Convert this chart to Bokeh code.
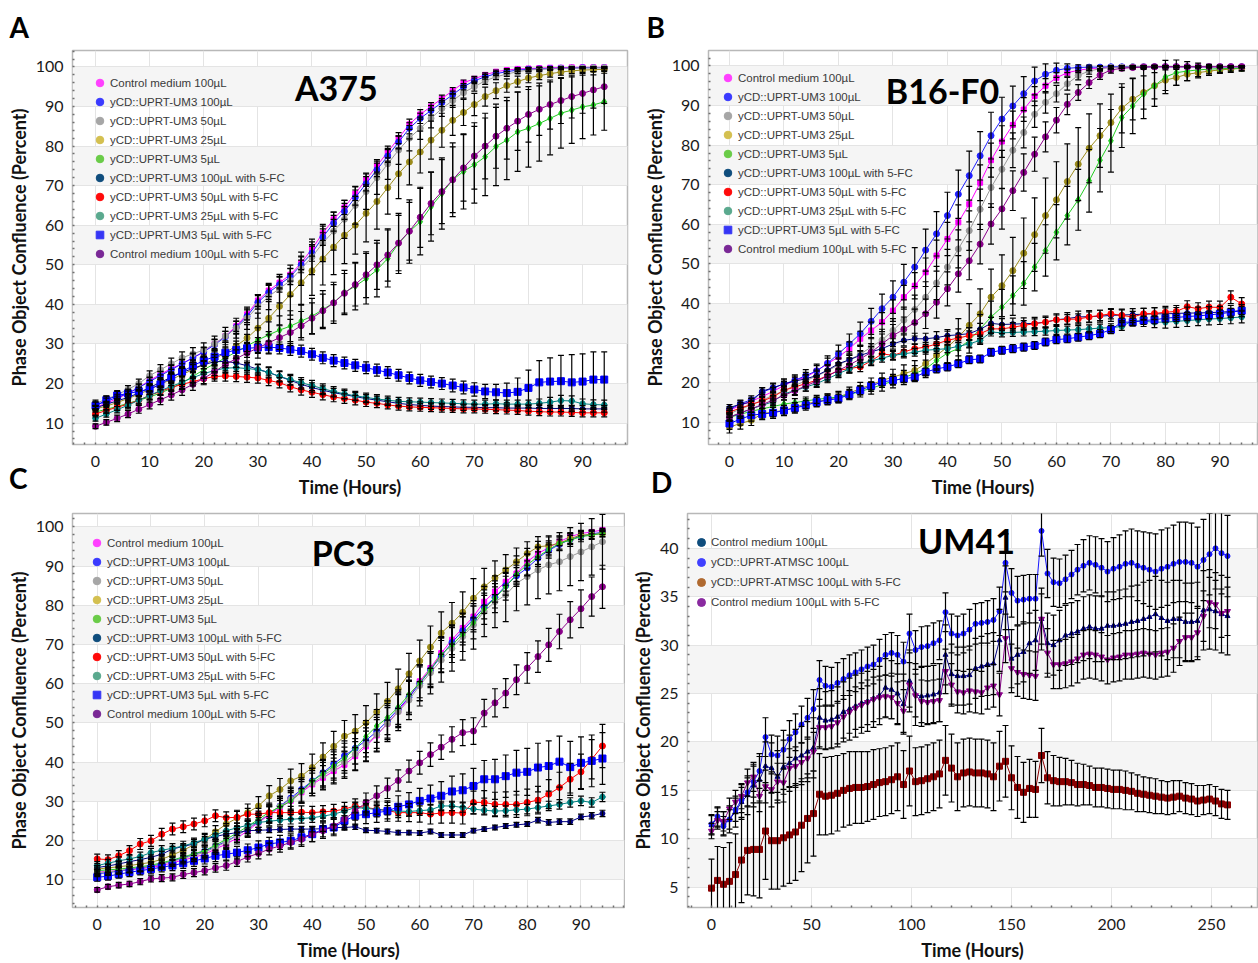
from bokeh.plotting import figure
from bokeh.models import (ColumnDataSource, Whisker, TeeHead, Legend, LegendItem,
                          Label, Range1d, SingleIntervalTicker, Title, Div)
from bokeh.layouts import row, column
from bokeh.embed import file_html
from bokeh.resources import INLINE

# ---------------- time axes ----------------
T = list(range(0, 96, 2))          # panels A, B, C (hours)
T_D = list(range(0, 259, 3))       # panel D (hours)

# ---------------- series labels / styles ----------------
LABELS_ABC = ["Control medium 100\u00b5L", "yCD::UPRT-UM3 100\u00b5L", "yCD::UPRT-UM3 50\u00b5L",
              "yCD::UPRT-UM3 25\u00b5L", "yCD::UPRT-UM3 5\u00b5L", "yCD::UPRT-UM3 100\u00b5L with 5-FC",
              "yCD::UPRT-UM3 50\u00b5L with 5-FC", "yCD::UPRT-UM3 25\u00b5L with 5-FC",
              "yCD::UPRT-UM3 5\u00b5L with 5-FC", "Control medium 100\u00b5L with 5-FC"]
LINE_COLORS_ABC = ["#ff00ff", "#1f1fff", "#9a9a9a", "#9c8c1c", "#22cc22",
                   "#000080", "#ff0000", "#008080", "#0000ff", "#8b008b"]
LEGEND_COLORS_ABC = ["#ff40ff", "#3a3aff", "#a6a6a6", "#d4c050", "#6acc48",
                     "#0f4d7d", "#ff0a0a", "#5aa98e", "#3535f5", "#7a2896"]
MARKERS_ABC = ["square", "circle", "circle", "circle", "diamond",
               "circle", "circle", "hex", "square", "circle"]
SIZES_ABC = [5, 6, 6, 6, 7, 5, 6, 6, 7, 6]
LEGEND_MARKERS_ABC = ["circle"] * 8 + ["square", "circle"]

LABELS_D = ["Control medium 100\u00b5L", "yCD::UPRT-ATMSC 100\u00b5L",
            "yCD::UPRT-ATMSC 100\u00b5L with 5-FC", "Control medium 100\u00b5L with 5-FC"]
LINE_COLORS_D = ["#000080", "#1515ff", "#8b0000", "#8b008b"]
LEGEND_COLORS_D = ["#0f4d7d", "#4040ff", "#b06a30", "#8a2aa0"]
MARKERS_D = ["triangle", "circle", "square", "inverted_triangle"]
SIZES_D = [5, 5, 6, 6]

# ---------------- Panel A (A375) ----------------
A_CTRL = [14.0, 15.0, 16.2, 17.5, 19.0, 20.8, 22.3, 23.8, 25.0, 26.5,
          28.0, 30.0, 32.0, 34.5, 37.5, 41.0, 43.5, 45.5, 47.5, 50.5,
          54.0, 58.0, 61.5, 64.5, 68.0, 71.5, 75.0, 78.5, 82.0, 85.5,
          88.0, 90.0, 92.0, 94.0, 96.0, 97.0, 98.0, 98.8, 99.2, 99.5,
          99.6, 99.7, 99.8, 99.8, 99.9, 99.9, 99.9, 99.9]
A_UM100 = [14.5, 15.5, 16.5, 17.5, 19.0, 20.5, 22.0, 23.5, 25.0, 26.5,
           28.0, 29.8, 31.8, 34.2, 37.0, 40.5, 43.0, 45.0, 47.0, 50.0,
           53.0, 57.0, 60.5, 63.5, 67.0, 70.5, 74.0, 77.5, 81.0, 84.5,
           87.0, 89.0, 91.0, 93.0, 95.0, 96.5, 97.5, 98.3, 98.8, 99.2,
           99.4, 99.5, 99.6, 99.7, 99.7, 99.8, 99.8, 99.8]
A_UM50 = [15.0, 16.0, 17.2, 18.5, 20.0, 22.0, 23.5, 25.0, 26.5, 27.5,
          28.5, 30.0, 32.0, 34.0, 36.5, 39.5, 42.0, 44.0, 46.0, 49.0,
          52.0, 55.5, 58.5, 61.5, 65.0, 68.5, 72.0, 75.5, 79.0, 82.0,
          84.5, 87.0, 89.5, 91.5, 93.5, 95.0, 96.5, 97.5, 98.2, 98.8,
          99.2, 99.4, 99.5, 99.6, 99.7, 99.7, 99.8, 99.8]
A_UM25 = [13.6, 14.3, 15.2, 16.2, 17.3, 18.5, 19.8, 21.0, 22.3, 23.5,
          24.8, 26.2, 27.8, 29.5, 31.5, 34.0, 36.5, 39.5, 42.5, 45.5,
          48.5, 51.5, 54.5, 57.5, 60.0, 63.0, 66.0, 69.5, 73.0, 76.0,
          78.5, 81.5, 84.0, 86.5, 88.5, 90.5, 92.5, 94.0, 95.3, 96.3,
          97.2, 97.8, 98.3, 98.7, 99.0, 99.2, 99.3, 99.4]
A_UM5 = [12.8, 13.5, 14.2, 15.0, 15.8, 16.6, 17.6, 18.8, 20.2, 21.8,
         23.5, 25.0, 26.5, 28.0, 29.5, 31.0, 32.3, 33.5, 34.5, 35.8,
         37.0, 38.7, 40.4, 43.0, 44.6, 46.5, 48.7, 51.6, 55.4, 58.4,
         60.9, 64.7, 68.0, 71.5, 73.6, 75.3, 77.3, 79.9, 81.5, 83.6,
         84.5, 85.7, 87.0, 88.3, 89.1, 89.9, 90.4, 91.2]
A_UM100FC = [13.8, 14.8, 15.6, 16.5, 17.6, 19.0, 20.3, 21.6, 22.8, 23.8,
             24.8, 25.5, 25.6, 25.2, 24.5, 23.6, 22.8, 21.8, 20.8, 19.8,
             19.0, 18.3, 17.7, 17.2, 16.7, 16.2, 15.8, 15.4, 15.0, 14.7,
             14.5, 14.3, 14.2, 14.1, 14.0, 14.0, 13.9, 13.9, 13.8, 13.8,
             13.8, 13.7, 13.7, 13.7, 13.7, 13.6, 13.6, 13.6]
A_UM50FC = [12.3, 13.2, 14.0, 14.8, 15.8, 17.0, 18.0, 19.0, 19.8, 20.5,
            21.2, 21.8, 21.9, 21.8, 21.6, 21.4, 20.8, 20.2, 19.2, 18.4,
            17.8, 17.2, 16.6, 16.2, 15.8, 15.3, 15.0, 14.6, 14.3, 14.1,
            14.0, 13.9, 13.8, 13.7, 13.6, 13.6, 13.5, 13.4, 13.3, 13.2,
            13.0, 12.9, 12.8, 12.8, 12.7, 12.6, 12.6, 12.6]
A_UM25FC = [11.2, 12.3, 13.4, 14.5, 15.8, 17.0, 18.2, 19.3, 20.3, 21.5,
            22.5, 23.3, 23.9, 24.0, 23.8, 23.5, 22.8, 21.8, 21.0, 20.2,
            19.5, 18.7, 18.0, 17.4, 16.9, 16.5, 16.1, 15.8, 15.5, 15.4,
            15.3, 15.2, 15.1, 15.0, 14.9, 14.8, 14.8, 14.9, 14.8, 14.8,
            14.8, 15.0, 15.3, 15.7, 15.6, 14.9, 14.7, 14.6]
A_UM5FC = [14.4, 15.8, 17.0, 17.5, 18.0, 18.6, 19.8, 21.5, 23.0, 24.5,
           25.8, 26.8, 27.8, 28.5, 28.9, 29.1, 29.2, 29.0, 28.6, 28.2,
           27.4, 26.5, 25.8, 25.2, 24.6, 24.0, 23.4, 22.8, 22.1, 21.4,
           20.8, 20.4, 20.0, 19.5, 19.0, 18.5, 18.0, 17.8, 17.6, 17.9,
           18.9, 20.3, 20.5, 20.6, 20.3, 20.5, 21.0, 21.0]
A_CTRLFC = [9.2, 10.2, 11.2, 12.3, 13.5, 14.7, 15.9, 17.1, 18.4, 19.8,
            21.3, 23.0, 24.8, 26.3, 27.7, 29.0, 30.3, 31.6, 32.9, 34.6,
            36.5, 38.4, 40.4, 42.8, 45.0, 47.5, 50.0, 52.5, 55.5, 58.5,
            62.0, 65.5, 68.5, 71.5, 74.5, 77.5, 80.0, 82.5, 84.5, 86.3,
            88.0, 89.3, 90.5, 91.5, 92.5, 93.3, 94.2, 95.0]

E_A_CTRL = [0.5, 0.5, 0.6, 0.6, 0.7, 0.8, 0.8, 0.9, 1.0, 1.0,
            1.1, 1.2, 1.2, 1.3, 1.4, 1.5, 1.5, 1.6, 1.6, 1.7,
            1.8, 1.8, 1.8, 1.8, 1.8, 1.7, 1.6, 1.5, 1.4, 1.3,
            1.2, 1.0, 0.9, 0.8, 0.7, 0.6, 0.5, 0.4, 0.4, 0.3,
            0.3, 0.3, 0.3, 0.2, 0.2, 0.2, 0.2, 0.2]
E_A_UM100 = [0.8, 0.8, 0.8, 0.9, 0.9, 1.0, 1.0, 1.1, 1.1, 1.2,
             1.2, 1.3, 1.4, 1.5, 1.6, 1.7, 1.8, 1.9, 2.0, 2.0,
             2.1, 2.1, 2.0, 2.0, 1.9, 1.8, 1.7, 1.6, 1.5, 1.4,
             1.3, 1.2, 1.0, 0.9, 0.8, 0.7, 0.6, 0.5, 0.5, 0.4,
             0.4, 0.3, 0.3, 0.3, 0.2, 0.2, 0.2, 0.2]
E_A_UM50 = [0.8, 0.9, 1.0, 1.0, 1.1, 1.2, 1.3, 1.4, 1.5, 1.6,
            1.8, 2.0, 2.2, 2.5, 2.8, 3.0, 3.3, 3.6, 3.9, 4.2,
            4.5, 4.7, 4.8, 4.8, 4.7, 4.5, 4.2, 3.9, 3.6, 3.2,
            2.8, 2.4, 2.0, 1.7, 1.4, 1.1, 0.9, 0.7, 0.6, 0.5,
            0.4, 0.4, 0.3, 0.3, 0.3, 0.2, 0.2, 0.2]
E_A_UM25 = [0.8, 0.9, 1.0, 1.1, 1.2, 1.3, 1.4, 1.5, 1.6, 1.8,
            2.0, 2.3, 2.6, 3.0, 3.4, 3.8, 4.2, 4.7, 5.2, 5.7,
            6.2, 6.6, 7.0, 7.2, 7.3, 7.2, 7.0, 6.7, 6.3, 5.8,
            5.3, 4.8, 4.3, 3.8, 3.3, 2.8, 2.4, 2.0, 1.7, 1.4,
            1.2, 1.0, 0.9, 0.8, 0.7, 0.6, 0.5, 0.5]
E_A_UM5 = [0.8, 0.9, 1.0, 1.1, 1.2, 1.3, 1.4, 1.5, 1.7, 1.9,
           2.1, 2.3, 2.5, 2.7, 2.9, 3.1, 3.3, 3.6, 3.9, 4.2,
           4.5, 4.8, 5.2, 5.6, 6.0, 6.4, 6.8, 7.2, 7.6, 8.0,
           8.4, 8.7, 9.0, 9.3, 9.5, 9.7, 9.8, 9.9, 10.0, 10.0,
           9.8, 9.5, 9.2, 8.8, 8.4, 8.0, 7.6, 7.2]
E_A_UM100FC = [0.6, 0.6, 0.7, 0.7, 0.8, 0.8, 0.9, 0.9, 1.0, 1.0,
               1.0, 1.1, 1.1, 1.1, 1.2, 1.2, 1.2, 1.2, 1.2, 1.2,
               1.2, 1.1, 1.1, 1.1, 1.0, 1.0, 1.0, 0.9, 0.9, 0.9,
               0.9, 0.8, 0.8, 0.8, 0.8, 0.8, 0.8, 0.8, 0.8, 0.8,
               0.8, 0.8, 0.8, 0.8, 0.8, 0.8, 0.8, 0.8]
E_A_UM50FC = [0.7, 0.7, 0.8, 0.8, 0.9, 0.9, 1.0, 1.0, 1.1, 1.1,
              1.2, 1.2, 1.3, 1.3, 1.3, 1.3, 1.3, 1.3, 1.3, 1.3,
              1.3, 1.3, 1.2, 1.2, 1.2, 1.1, 1.1, 1.0, 1.0, 1.0,
              1.0, 1.0, 1.0, 1.0, 1.0, 1.0, 1.0, 1.0, 1.0, 1.0,
              1.0, 1.0, 1.0, 1.0, 1.0, 1.0, 1.0, 1.0]
E_A_UM25FC = [0.7, 0.8, 0.8, 0.9, 0.9, 1.0, 1.0, 1.1, 1.1, 1.2,
              1.2, 1.3, 1.3, 1.4, 1.4, 1.4, 1.4, 1.4, 1.3, 1.3,
              1.3, 1.2, 1.2, 1.2, 1.1, 1.1, 1.1, 1.0, 1.0, 1.0,
              1.0, 1.0, 1.0, 1.0, 1.0, 1.0, 1.0, 1.0, 1.0, 1.0,
              1.0, 1.1, 1.2, 1.3, 1.3, 1.2, 1.2, 1.2]
E_A_UM5FC = [1.0, 1.0, 1.0, 1.1, 1.1, 1.2, 1.2, 1.3, 1.3, 1.4,
             1.4, 1.5, 1.5, 1.5, 1.5, 1.5, 1.5, 1.5, 1.5, 1.5,
             1.5, 1.5, 1.5, 1.5, 1.5, 1.5, 1.5, 1.5, 1.5, 1.5,
             1.5, 1.5, 1.5, 1.6, 1.6, 1.7, 1.8, 2.0, 2.5, 3.5,
             4.5, 5.5, 6.0, 6.5, 7.0, 7.0, 7.0, 7.0]
E_A_CTRLFC = [0.6, 0.7, 0.8, 0.9, 1.0, 1.1, 1.2, 1.3, 1.4, 1.5,
              1.6, 1.8, 2.0, 2.2, 2.4, 2.6, 2.8, 3.0, 3.3, 3.6,
              3.9, 4.2, 4.6, 5.0, 5.4, 5.8, 6.2, 6.6, 7.0, 7.3,
              7.6, 7.9, 8.1, 8.3, 8.4, 8.4, 8.3, 8.1, 7.8, 7.4,
              7.0, 6.6, 6.2, 5.8, 5.4, 5.0, 4.6, 4.2]

# ---------------- Panel B (B16-F0) ----------------
B_CTRL = [13.0, 14.3, 15.3, 16.5, 17.8, 19.3, 20.6, 21.4, 23.0, 24.8,
          26.5, 28.6, 31.1, 33.2, 35.3, 38.2, 41.6, 44.5, 47.9, 52.1,
          56.3, 60.5, 65.1, 70.5, 76.2, 80.9, 85.1, 89.0, 92.4, 95.0,
          97.0, 98.3, 98.9, 99.3, 99.5, 99.6, 99.7, 99.7, 99.8, 99.8,
          99.8, 99.8, 99.8, 99.8, 99.8, 99.8, 99.8, 99.8]
B_UM100 = [13.2, 14.7, 15.7, 17.6, 18.7, 19.7, 20.6, 21.8, 23.0, 24.9,
           27.3, 29.8, 32.4, 35.5, 38.7, 41.6, 45.4, 49.2, 53.5, 57.6,
           62.2, 67.6, 72.3, 77.3, 82.4, 86.6, 89.9, 93.0, 96.2, 97.9,
           98.9, 99.4, 99.6, 99.7, 99.7, 99.8, 99.8, 99.8, 99.8, 99.8,
           99.8, 99.8, 99.8, 99.8, 99.8, 99.8, 99.8, 99.8]
B_UM50 = [12.2, 13.3, 14.4, 15.6, 16.8, 18.0, 19.3, 20.5, 21.7, 23.0,
          24.5, 25.8, 27.2, 29.0, 30.8, 33.2, 35.8, 38.5, 41.6, 45.2,
          49.2, 53.8, 58.4, 63.8, 69.3, 73.9, 78.7, 83.2, 87.8, 90.8,
          93.0, 95.5, 97.6, 98.7, 99.3, 99.6, 99.7, 99.8, 99.8, 99.8,
          99.8, 99.8, 99.8, 99.8, 99.8, 99.8, 99.8, 99.8]
B_UM25 = [8.8, 9.7, 10.5, 12.2, 12.6, 13.0, 13.8, 14.7, 15.2, 15.8,
          16.4, 17.4, 18.5, 19.5, 20.6, 21.4, 22.3, 23.1, 24.8, 26.9,
          29.0, 31.5, 34.5, 37.4, 41.6, 44.5, 48.3, 52.7, 57.4, 62.2,
          66.2, 70.8, 75.2, 79.2, 82.4, 85.7, 89.3, 91.6, 93.3, 95.0,
          96.4, 97.1, 97.9, 98.3, 98.7, 99.0, 99.2, 99.4]
B_UM5 = [11.3, 12.0, 12.8, 13.4, 14.0, 14.6, 15.0, 15.4, 15.8, 16.1,
         16.4, 17.0, 17.8, 18.6, 19.5, 20.4, 21.3, 22.3, 23.5, 25.6,
         27.5, 28.6, 30.7, 33.6, 36.6, 39.1, 42.0, 45.1, 49.2, 53.4,
         58.0, 62.2, 66.2, 71.0, 76.2, 81.1, 87.0, 89.9, 92.9, 95.0,
         97.2, 98.3, 98.7, 99.0, 99.2, 99.3, 99.4, 99.4]
B_UM100FC = [13.7, 14.6, 15.1, 17.9, 18.7, 19.7, 20.4, 21.0, 21.8, 23.2,
             24.8, 25.8, 26.9, 27.8, 28.6, 29.8, 30.7, 31.1, 31.1, 31.4,
             31.9, 32.1, 32.4, 33.5, 35.0, 34.7, 34.8, 34.9, 35.0, 35.3,
             35.9, 36.2, 36.6, 36.7, 36.8, 37.0, 37.1, 37.2, 37.3, 37.4,
             37.4, 37.5, 37.6, 37.6, 37.7, 37.8, 38.0, 38.2]
B_UM50FC = [12.6, 13.6, 14.5, 15.4, 16.4, 18.1, 18.9, 19.8, 20.6, 21.8,
            23.1, 23.6, 24.0, 25.5, 27.3, 26.9, 27.8, 28.6, 29.0, 29.8,
            30.7, 31.3, 31.9, 32.4, 33.6, 33.6, 34.0, 34.5, 34.9, 35.3,
            35.9, 36.0, 36.1, 36.6, 37.0, 37.4, 37.0, 36.6, 37.4, 37.5,
            37.8, 38.0, 39.2, 38.7, 39.1, 39.0, 41.6, 39.9]
B_UM25FC = [11.3, 12.3, 13.4, 14.3, 15.2, 17.2, 18.0, 18.9, 19.8, 21.0,
            22.3, 23.5, 24.8, 25.5, 26.2, 26.9, 27.3, 27.7, 28.2, 28.4,
            28.6, 29.2, 29.8, 30.7, 32.8, 32.6, 32.7, 32.8, 32.9, 33.0,
            33.2, 33.3, 33.4, 33.6, 33.8, 33.9, 34.2, 35.7, 35.5, 35.3,
            35.3, 35.5, 35.7, 35.9, 36.1, 36.2, 36.4, 36.6]
B_UM5FC = [9.7, 10.8, 11.8, 12.1, 12.4, 13.0, 13.6, 14.3, 15.1, 15.6,
           16.0, 17.0, 18.1, 19.2, 20.2, 20.6, 21.0, 21.4, 22.7, 23.5,
           24.0, 24.8, 25.8, 26.0, 27.7, 28.2, 28.6, 29.0, 29.4, 30.3,
           30.9, 31.1, 31.5, 31.9, 32.4, 33.4, 35.3, 35.3, 35.7, 35.9,
           36.3, 36.5, 36.7, 36.9, 37.1, 37.4, 37.8, 38.2]
B_CTRLFC = [11.3, 12.4, 13.4, 14.5, 15.6, 16.8, 18.0, 19.2, 20.4, 21.7,
            23.1, 24.5, 26.0, 27.7, 29.8, 31.9, 33.5, 35.2, 37.4, 40.3,
            43.7, 47.5, 50.8, 55.0, 60.1, 63.9, 68.5, 73.1, 77.7, 82.1,
            86.3, 90.3, 93.3, 95.8, 97.7, 99.0, 99.4, 99.6, 99.7, 99.8,
            99.8, 99.8, 99.8, 99.8, 99.8, 99.8, 99.8, 99.8]

E_B_CTRL = [0.6, 0.7, 0.8, 0.9, 1.0, 1.0, 1.1, 1.2, 1.3, 1.4,
            1.5, 1.7, 1.9, 2.1, 2.4, 2.7, 3.0, 3.3, 3.6, 3.9,
            4.2, 4.4, 4.5, 4.5, 4.3, 4.0, 3.5, 3.0, 2.4, 1.8,
            1.3, 0.9, 0.6, 0.5, 0.4, 0.3, 0.3, 0.2, 0.2, 0.2,
            0.2, 0.2, 0.2, 0.2, 0.2, 0.2, 0.2, 0.2]
E_B_UM100 = [0.8, 0.9, 1.0, 1.1, 1.2, 1.3, 1.4, 1.5, 1.7, 1.9,
             2.2, 2.5, 2.9, 3.3, 3.7, 4.1, 4.5, 4.9, 5.3, 5.6,
             5.9, 6.1, 6.2, 6.1, 5.9, 5.5, 5.0, 4.3, 3.5, 2.6,
             1.8, 1.1, 0.7, 0.5, 0.4, 0.3, 0.3, 0.2, 0.2, 0.2,
             0.2, 0.2, 0.2, 0.2, 0.2, 0.2, 0.2, 0.2]
E_B_UM50 = [0.8, 0.8, 0.9, 1.0, 1.1, 1.2, 1.3, 1.4, 1.5, 1.6,
            1.8, 2.0, 2.2, 2.4, 2.7, 3.0, 3.3, 3.6, 3.9, 4.2,
            4.5, 4.8, 5.0, 5.1, 5.0, 4.8, 4.4, 3.9, 3.3, 2.7,
            2.1, 1.6, 1.1, 0.8, 0.6, 0.4, 0.3, 0.3, 0.2, 0.2,
            0.2, 0.2, 0.2, 0.2, 0.2, 0.2, 0.2, 0.2]
E_B_UM25 = [1.5, 1.4, 1.3, 1.3, 1.2, 1.2, 1.2, 1.2, 1.2, 1.3,
            1.4, 1.5, 1.6, 1.7, 1.8, 2.0, 2.2, 2.5, 2.9, 3.4,
            4.0, 4.7, 5.5, 6.3, 7.1, 7.8, 8.4, 8.9, 9.3, 9.5,
            9.6, 9.5, 9.2, 8.7, 8.0, 7.2, 6.2, 5.2, 4.2, 3.3,
            2.6, 2.0, 1.6, 1.3, 1.1, 0.9, 0.8, 0.7]
E_B_UM5 = [1.0, 1.0, 1.0, 1.0, 1.0, 1.0, 1.0, 1.0, 1.0, 1.1,
           1.2, 1.3, 1.4, 1.5, 1.6, 1.7, 1.8, 2.0, 2.2, 2.4,
           2.6, 2.9, 3.2, 3.6, 4.0, 4.5, 5.0, 5.5, 6.0, 6.5,
           7.0, 7.4, 7.7, 7.9, 8.0, 7.9, 7.6, 7.0, 6.2, 5.2,
           4.2, 3.2, 2.4, 1.7, 1.2, 0.9, 0.7, 0.6]
E_B_UM100FC = [0.8, 0.8, 0.9, 0.9, 1.0, 1.0, 1.0, 1.1, 1.1, 1.1,
               1.2, 1.2, 1.2, 1.3, 1.3, 1.3, 1.4, 1.4, 1.4, 1.5,
               1.5, 1.5, 1.5, 1.5, 1.5, 1.5, 1.5, 1.5, 1.5, 1.5,
               1.5, 1.5, 1.5, 1.5, 1.5, 1.5, 1.5, 1.5, 1.5, 1.5,
               1.5, 1.5, 1.5, 1.5, 1.5, 1.5, 1.5, 1.5]
E_B_UM50FC = [0.8, 0.8, 0.9, 0.9, 1.0, 1.0, 1.0, 1.1, 1.1, 1.1,
              1.2, 1.2, 1.2, 1.2, 1.2, 1.2, 1.2, 1.2, 1.2, 1.2,
              1.2, 1.2, 1.2, 1.2, 1.2, 1.2, 1.2, 1.2, 1.2, 1.2,
              1.2, 1.2, 1.3, 1.3, 1.3, 1.3, 1.4, 1.4, 1.4, 1.5,
              1.5, 1.5, 1.5, 1.5, 1.5, 1.6, 1.6, 1.6]
E_B_UM25FC = [0.8, 0.8, 0.8, 0.9, 0.9, 0.9, 1.0, 1.0, 1.0, 1.0,
              1.0, 1.0, 1.0, 1.0, 1.0, 1.0, 1.0, 1.0, 1.0, 1.0,
              1.0, 1.0, 1.0, 1.0, 1.0, 1.0, 1.0, 1.0, 1.0, 1.0,
              1.0, 1.0, 1.0, 1.0, 1.0, 1.0, 1.0, 1.2, 1.3, 1.4,
              1.5, 1.5, 1.5, 1.5, 1.5, 1.5, 1.5, 1.5]
E_B_UM5FC = [1.5, 1.5, 1.5, 1.4, 1.4, 1.3, 1.3, 1.2, 1.2, 1.2,
             1.1, 1.1, 1.1, 1.0, 1.0, 1.0, 1.0, 1.0, 1.0, 1.0,
             1.0, 1.0, 1.0, 1.0, 1.0, 1.0, 1.0, 1.0, 1.0, 1.0,
             1.0, 1.0, 1.0, 1.0, 1.0, 1.0, 1.0, 1.0, 1.0, 1.0,
             1.0, 1.0, 1.0, 1.0, 1.0, 1.0, 1.0, 1.0]
E_B_CTRLFC = [0.7, 0.8, 0.9, 1.0, 1.0, 1.1, 1.2, 1.3, 1.4, 1.5,
              1.6, 1.8, 2.0, 2.2, 2.5, 2.8, 3.1, 3.4, 3.7, 4.0,
              4.3, 4.6, 4.8, 5.0, 5.1, 5.1, 5.0, 4.7, 4.3, 3.8,
              3.2, 2.6, 2.0, 1.5, 1.1, 0.8, 0.6, 0.4, 0.3, 0.3,
              0.2, 0.2, 0.2, 0.2, 0.2, 0.2, 0.2, 0.2]

# ---------------- Panel C (PC3) ----------------
C_CTRL = [11.9, 12.1, 12.3, 12.5, 12.8, 13.1, 13.6, 14.3, 15.0, 15.7,
          16.5, 17.8, 19.1, 20.6, 22.5, 24.6, 26.5, 28.4, 30.1, 32.3,
          34.3, 36.0, 37.7, 39.3, 41.5, 44.0, 46.8, 49.8, 53.0, 56.4,
          60.6, 64.0, 67.8, 71.2, 74.2, 77.1, 80.9, 83.5, 86.0, 88.1,
          91.1, 93.2, 94.7, 96.2, 97.5, 98.3, 98.7, 99.2]
C_UM100 = [11.5, 11.8, 12.2, 12.6, 13.0, 13.4, 14.0, 14.8, 15.6, 16.4,
           17.3, 18.5, 19.8, 21.3, 23.0, 24.8, 26.8, 28.8, 30.8, 33.0,
           35.2, 37.3, 39.5, 41.6, 43.5, 45.5, 47.8, 50.5, 53.5, 56.5,
           60.0, 63.5, 67.0, 70.5, 73.5, 76.5, 79.5, 82.0, 85.0, 87.5,
           89.5, 92.0, 94.0, 95.5, 96.8, 97.6, 98.2, 98.6]
C_UM50 = [11.8, 12.0, 12.3, 12.6, 13.0, 13.4, 14.0, 14.7, 15.4, 16.2,
          17.0, 18.3, 19.6, 21.2, 23.0, 24.8, 26.8, 28.7, 30.5, 32.6,
          34.6, 36.5, 38.3, 40.0, 42.0, 44.5, 47.0, 49.8, 52.8, 55.8,
          59.5, 62.8, 66.0, 69.0, 72.0, 75.0, 78.4, 80.9, 82.6, 85.6,
          87.3, 89.0, 90.3, 91.1, 92.4, 93.6, 94.9, 96.2]
C_UM25 = [12.7, 13.0, 13.3, 13.6, 14.0, 14.4, 15.2, 16.3, 17.5, 18.9,
          20.3, 22.2, 24.2, 25.7, 27.1, 28.8, 31.4, 33.0, 35.2, 36.4,
          38.6, 41.3, 44.0, 46.6, 47.9, 50.0, 52.8, 55.5, 58.7, 62.5,
          65.8, 69.3, 72.9, 75.4, 78.2, 81.8, 84.7, 87.0, 89.0, 91.1,
          93.2, 94.9, 95.2, 95.8, 97.0, 97.9, 98.0, 98.3]
C_UM5 = [12.3, 12.5, 12.7, 13.0, 13.3, 13.7, 14.3, 15.0, 15.8, 16.6,
         17.4, 18.8, 20.3, 21.9, 23.6, 25.4, 27.2, 28.6, 30.0, 32.5,
         35.2, 37.0, 39.0, 41.0, 43.5, 46.5, 49.2, 51.3, 54.0, 57.2,
         60.2, 63.6, 67.4, 69.9, 72.6, 75.6, 79.1, 81.8, 84.7, 87.9,
         90.3, 92.4, 94.2, 95.8, 96.6, 97.5, 97.9, 98.3]
C_UM100FC = [13.1, 13.5, 14.0, 14.6, 15.1, 15.7, 16.5, 17.8, 18.5, 19.1,
             20.3, 21.0, 21.6, 22.0, 22.5, 22.6, 22.7, 22.8, 22.9, 22.9,
             22.9, 23.0, 23.3, 23.3, 23.5, 22.6, 22.5, 22.3, 22.0, 22.0,
             21.9, 22.3, 21.4, 21.4, 21.4, 22.5, 22.9, 23.3, 23.7, 24.0,
             24.2, 25.2, 24.6, 24.8, 24.8, 26.0, 26.3, 26.9]
C_UM50FC = [15.3, 15.1, 16.1, 17.4, 19.1, 19.9, 21.6, 22.9, 23.5, 24.2,
            25.0, 26.3, 25.8, 25.9, 26.7, 26.7, 27.1, 27.1, 27.1, 27.2,
            27.1, 27.3, 27.5, 28.0, 28.8, 28.4, 28.0, 27.6, 27.1, 27.1,
            27.1, 26.7, 27.0, 27.1, 27.0, 29.7, 29.7, 29.2, 29.2, 29.2,
            29.7, 30.3, 31.8, 33.5, 35.6, 37.5, 40.7, 44.1]
C_UM25FC = [13.6, 14.2, 14.8, 15.3, 15.9, 16.9, 17.5, 18.0, 18.6, 19.4,
            20.3, 21.4, 22.5, 23.2, 23.9, 24.6, 24.9, 25.2, 25.4, 25.6,
            25.8, 26.2, 26.7, 27.5, 28.4, 28.2, 27.9, 27.7, 27.5, 27.4,
            27.6, 27.8, 28.8, 28.8, 28.4, 28.0, 27.7, 27.5, 27.6, 27.8,
            28.0, 28.4, 28.8, 29.2, 29.7, 30.1, 29.7, 31.1]
C_UM5FC = [10.6, 10.9, 11.4, 11.9, 12.3, 12.7, 13.2, 13.6, 14.2, 14.8,
           15.4, 16.1, 16.5, 16.9, 17.5, 18.2, 19.1, 19.5, 19.9, 20.8,
           21.6, 22.9, 23.3, 25.0, 26.3, 26.7, 27.1, 27.5, 28.6, 29.2,
           30.1, 30.7, 31.4, 32.5, 32.8, 33.9, 35.6, 35.6, 36.4, 37.3,
           37.5, 38.6, 39.0, 40.1, 38.7, 39.8, 40.3, 40.9]
C_CTRLFC = [7.4, 8.2, 8.6, 8.9, 9.5, 10.2, 10.4, 10.6, 11.3, 11.8,
            12.3, 13.0, 13.6, 14.6, 15.8, 16.7, 17.8, 18.6, 19.5, 20.3,
            21.6, 22.5, 23.7, 25.4, 27.5, 29.7, 31.4, 33.3, 35.3, 37.7,
            39.8, 41.9, 43.8, 45.8, 47.5, 47.9, 52.5, 55.1, 57.6, 61.0,
            64.0, 66.9, 69.9, 73.3, 76.3, 79.1, 82.2, 84.7]

E_C_CTRL = [0.6, 0.6, 0.7, 0.7, 0.8, 0.8, 0.9, 0.9, 1.0, 1.1,
            1.2, 1.3, 1.4, 1.5, 1.7, 1.9, 2.1, 2.3, 2.5, 2.7,
            2.9, 3.1, 3.3, 3.5, 3.7, 3.9, 4.0, 4.1, 4.2, 4.2,
            4.2, 4.1, 4.0, 3.8, 3.6, 3.3, 3.0, 2.7, 2.4, 2.1,
            1.8, 1.5, 1.2, 1.0, 0.8, 0.6, 0.5, 0.4]
E_C_UM100 = [0.7, 0.7, 0.8, 0.8, 0.9, 0.9, 1.0, 1.0, 1.1, 1.2,
             1.3, 1.4, 1.5, 1.7, 1.9, 2.1, 2.3, 2.5, 2.8, 3.0,
             3.2, 3.4, 3.6, 3.8, 4.0, 4.2, 4.3, 4.4, 4.4, 4.4,
             4.3, 4.2, 4.0, 3.8, 3.6, 3.3, 3.0, 2.7, 2.4, 2.1,
             1.8, 1.6, 1.4, 1.2, 1.0, 0.8, 0.7, 0.6]
E_C_UM50 = [0.7, 0.7, 0.8, 0.8, 0.9, 0.9, 1.0, 1.0, 1.1, 1.2,
            1.3, 1.4, 1.5, 1.7, 1.9, 2.1, 2.3, 2.5, 2.8, 3.0,
            3.2, 3.4, 3.6, 3.8, 4.0, 4.2, 4.4, 4.6, 4.8, 5.0,
            5.2, 5.4, 5.6, 5.8, 6.0, 6.2, 6.4, 6.6, 6.8, 7.0,
            7.2, 7.3, 7.4, 7.4, 7.4, 7.3, 7.2, 7.0]
E_C_UM25 = [0.8, 0.8, 0.9, 0.9, 1.0, 1.0, 1.1, 1.2, 1.3, 1.4,
            1.5, 1.6, 1.8, 2.0, 2.2, 2.4, 2.6, 2.8, 3.0, 3.2,
            3.4, 3.6, 3.8, 4.0, 4.2, 4.4, 4.6, 4.8, 5.0, 5.2,
            5.3, 5.4, 5.4, 5.3, 5.2, 5.0, 4.7, 4.3, 3.9, 3.5,
            3.0, 2.6, 2.2, 1.8, 1.5, 1.2, 1.0, 0.8]
E_C_UM5 = [0.7, 0.7, 0.8, 0.8, 0.9, 0.9, 1.0, 1.0, 1.1, 1.2,
           1.3, 1.4, 1.5, 1.7, 1.9, 2.1, 2.3, 2.5, 2.8, 3.0,
           3.2, 3.4, 3.6, 3.8, 4.0, 4.1, 4.2, 4.3, 4.4, 4.5,
           4.6, 4.6, 4.6, 4.5, 4.4, 4.2, 4.0, 3.7, 3.4, 3.1,
           2.8, 2.5, 2.2, 1.9, 1.6, 1.3, 1.1, 0.9]
E_C_UM100FC = [0.5, 0.5, 0.6, 0.6, 0.6, 0.6, 0.7, 0.7, 0.7, 0.7,
               0.7, 0.7, 0.7, 0.7, 0.7, 0.7, 0.7, 0.7, 0.7, 0.7,
               0.7, 0.7, 0.7, 0.7, 0.7, 0.6, 0.6, 0.6, 0.6, 0.6,
               0.6, 0.6, 0.6, 0.6, 0.6, 0.6, 0.6, 0.6, 0.6, 0.6,
               0.6, 0.7, 0.7, 0.7, 0.7, 0.7, 0.8, 0.8]
E_C_UM50FC = [1.2, 1.2, 1.3, 1.3, 1.4, 1.4, 1.5, 1.5, 1.5, 1.5,
              1.5, 1.5, 1.5, 1.5, 1.5, 1.5, 1.5, 1.5, 1.6, 1.6,
              1.6, 1.6, 1.7, 1.7, 1.8, 1.9, 2.0, 2.1, 2.2, 2.3,
              2.4, 2.5, 2.6, 2.7, 2.8, 2.9, 3.0, 3.1, 3.2, 3.3,
              3.4, 3.5, 3.7, 3.9, 4.1, 4.5, 5.0, 5.5]
E_C_UM25FC = [1.0, 1.0, 1.0, 1.1, 1.1, 1.1, 1.2, 1.2, 1.2, 1.2,
              1.2, 1.2, 1.2, 1.2, 1.2, 1.2, 1.2, 1.2, 1.2, 1.2,
              1.2, 1.2, 1.2, 1.2, 1.2, 1.2, 1.2, 1.2, 1.2, 1.2,
              1.2, 1.2, 1.2, 1.2, 1.2, 1.2, 1.2, 1.2, 1.2, 1.2,
              1.2, 1.2, 1.2, 1.2, 1.2, 1.2, 1.2, 1.2]
E_C_UM5FC = [1.0, 1.0, 1.0, 1.1, 1.1, 1.2, 1.2, 1.3, 1.3, 1.4,
             1.4, 1.5, 1.5, 1.6, 1.6, 1.7, 1.7, 1.8, 1.8, 1.9,
             1.9, 2.0, 2.1, 2.2, 2.3, 2.4, 2.5, 2.6, 2.8, 3.0,
             3.2, 3.4, 3.6, 3.9, 4.2, 4.5, 4.8, 5.1, 5.4, 5.7,
             6.0, 6.2, 6.4, 6.5, 6.6, 6.6, 6.6, 6.6]
E_C_CTRLFC = [0.6, 0.6, 0.7, 0.7, 0.8, 0.8, 0.9, 0.9, 1.0, 1.0,
              1.1, 1.1, 1.2, 1.2, 1.3, 1.4, 1.5, 1.6, 1.7, 1.8,
              1.9, 2.0, 2.1, 2.2, 2.3, 2.4, 2.5, 2.6, 2.7, 2.8,
              2.9, 3.0, 3.1, 3.2, 3.3, 3.4, 3.5, 3.6, 3.7, 3.8,
              3.9, 4.0, 4.2, 4.4, 4.6, 4.8, 5.0, 5.5]

# ---------------- Panel D (UM41) ----------------
D_NAVY = [11.4, 12.2, 11.6, 12.0, 12.8, 13.8, 14.5, 15.5, 16.1, 17.5,
          17.3, 16.4, 17.4, 17.8, 18.3, 18.6, 19.0, 19.4, 22.5, 22.2,
          22.3, 22.6, 23.1, 23.4, 23.7, 24.0, 24.2, 24.5, 24.8, 25.6,
          25.4, 25.0, 23.9, 26.3, 24.9, 24.7, 24.8, 24.9, 25.1, 29.0,
          27.0, 26.8, 26.8, 26.9, 27.6, 27.8, 28.0, 28.1, 30.5, 34.9,
          28.6, 29.0, 29.3, 30.2, 30.5, 32.7, 30.2, 30.0, 30.5, 31.0,
          31.2, 31.4, 31.7, 31.9, 31.7, 31.7, 32.0, 32.0, 32.1, 32.2,
          32.4, 32.5, 32.7, 32.9, 33.2, 32.8, 32.5, 32.7, 32.7, 32.4,
          32.4, 32.5, 33.6, 33.7, 33.5, 33.2, 33.0]
D_BLUE = [11.5, 12.3, 11.3, 12.0, 13.0, 14.0, 14.8, 15.9, 17.0, 20.5,
          18.7, 18.6, 19.2, 20.3, 21.0, 21.8, 22.5, 23.4, 26.4, 25.8,
          25.7, 26.1, 26.5, 26.9, 27.2, 27.5, 27.8, 28.0, 28.5, 29.0,
          29.2, 29.0, 28.3, 31.2, 29.5, 29.8, 29.9, 30.2, 30.5, 33.4,
          31.2, 31.0, 31.2, 31.6, 32.2, 32.3, 32.4, 32.6, 33.5, 38.5,
          35.4, 34.6, 34.7, 34.8, 34.8, 41.8, 37.4, 36.5, 36.4, 36.8,
          37.3, 37.8, 38.2, 38.5, 38.3, 38.0, 37.6, 37.9, 38.1, 38.4,
          38.5, 38.2, 38.0, 37.8, 37.6, 37.9, 38.1, 38.4, 38.6, 38.6,
          38.5, 38.1, 38.8, 39.4, 40.0, 39.5, 39.2]
D_RED = [4.9, 5.7, 5.3, 5.6, 6.3, 7.8, 8.8, 8.9, 8.9, 10.8,
         9.8, 9.8, 10.1, 10.4, 10.7, 11.4, 12.1, 12.6, 14.6, 14.4,
         14.5, 14.7, 15.0, 15.2, 15.3, 15.3, 15.4, 15.6, 15.8, 15.9,
         16.1, 16.4, 15.6, 17.0, 15.9, 16.0, 16.2, 16.4, 16.7, 18.1,
         17.3, 16.4, 16.8, 16.9, 16.8, 16.8, 16.7, 16.4, 17.5, 18.0,
         16.3, 15.3, 14.8, 15.2, 15.1, 18.6, 16.3, 16.0, 15.9, 15.9,
         15.8, 15.6, 15.6, 15.5, 15.3, 15.3, 15.2, 15.1, 15.1, 15.0,
         14.9, 14.7, 14.6, 14.5, 14.4, 14.3, 14.2, 14.3, 14.4, 14.2,
         14.1, 13.9, 14.0, 14.1, 13.9, 13.6, 13.5]
D_PURPLE = [10.8, 11.9, 11.8, 13.1, 13.8, 14.4, 15.8, 16.4, 14.4, 15.4,
            15.1, 15.9, 15.8, 17.3, 17.5, 17.9, 18.3, 19.0, 21.5, 21.5,
            21.6, 22.0, 22.6, 23.1, 23.5, 23.8, 24.1, 24.4, 24.6, 24.7,
            24.6, 24.0, 23.2, 25.9, 24.8, 24.2, 24.1, 24.2, 24.3, 27.3,
            25.9, 25.2, 25.1, 25.3, 25.2, 25.1, 25.6, 25.8, 24.9, 30.7,
            27.6, 27.2, 27.0, 26.9, 26.8, 32.7, 29.2, 28.0, 28.0, 28.1,
            28.3, 28.6, 29.0, 29.1, 29.0, 28.8, 28.5, 28.7, 28.8, 29.0,
            29.0, 29.1, 29.2, 29.1, 29.0, 29.2, 29.3, 29.7, 30.4, 30.8,
            30.8, 31.3, 33.0, 34.4, 34.2, 33.3, 33.5]

E_D_NAVY = [1.0, 1.0, 1.2, 1.4, 1.6, 1.8, 2.0, 2.2, 2.4, 2.5,
            2.6, 2.7, 2.8, 2.9, 3.0, 3.0, 3.1, 3.1, 3.0, 3.0,
            3.0, 3.1, 3.1, 3.2, 3.2, 3.1, 3.1, 3.0, 3.0, 3.0,
            3.0, 3.1, 3.1, 3.2, 3.2, 3.1, 3.0, 3.0, 3.0, 3.1,
            3.1, 3.0, 3.0, 3.0, 3.1, 3.1, 3.2, 3.2, 3.2, 3.3,
            3.0, 3.0, 3.1, 3.1, 3.1, 3.2, 3.1, 3.1, 3.1, 3.1,
            3.2, 3.2, 3.3, 3.3, 3.4, 3.4, 3.5, 3.5, 3.6, 3.6,
            3.7, 3.7, 3.8, 3.8, 3.9, 3.9, 4.0, 4.0, 4.0, 4.0,
            4.0, 4.0, 4.1, 4.1, 4.0, 4.0, 4.0]
E_D_BLUE = [1.0, 1.0, 1.0, 1.0, 1.2, 1.3, 1.5, 1.6, 1.8, 2.0,
            2.0, 2.0, 2.0, 1.9, 1.9, 1.9, 2.0, 2.0, 2.0, 2.0,
            2.0, 2.1, 2.1, 2.1, 2.0, 2.0, 2.0, 2.0, 2.1, 2.1,
            2.1, 2.0, 2.0, 2.0, 2.0, 2.1, 2.1, 2.1, 2.0, 2.0,
            2.0, 2.0, 2.0, 2.1, 2.1, 2.1, 2.2, 2.2, 2.5, 3.0,
            2.5, 2.5, 2.5, 2.5, 2.5, 2.6, 2.5, 2.5, 2.5, 2.5,
            2.5, 2.6, 2.7, 2.8, 2.9, 3.0, 3.1, 3.2, 3.3, 3.4,
            3.5, 3.6, 3.7, 3.8, 3.9, 4.0, 4.0, 4.0, 4.1, 4.1,
            4.1, 4.1, 4.2, 4.2, 4.2, 4.2, 4.2]
E_D_RED = [3.0, 3.5, 3.8, 4.0, 4.2, 4.4, 4.6, 4.8, 5.0, 5.0,
           5.0, 5.0, 5.0, 5.0, 5.0, 4.8, 4.6, 4.4, 4.2, 4.0,
           4.0, 3.9, 3.8, 3.8, 3.7, 3.7, 3.6, 3.6, 3.5, 3.5,
           3.5, 3.5, 3.5, 3.6, 3.5, 3.5, 3.5, 3.5, 3.5, 3.6,
           3.5, 3.5, 3.5, 3.5, 3.5, 3.5, 3.5, 3.5, 3.6, 3.7,
           3.3, 3.2, 3.1, 3.0, 2.9, 2.8, 2.7, 2.6, 2.5, 2.4,
           2.3, 2.2, 2.1, 2.0, 2.0, 2.0, 2.0, 2.0, 2.0, 2.0,
           1.9, 1.9, 1.8, 1.8, 1.8, 1.7, 1.7, 1.7, 1.6, 1.6,
           1.6, 1.6, 1.5, 1.5, 1.5, 1.5, 1.5]
E_D_PURPLE = [0.8, 0.9, 1.0, 1.1, 1.2, 1.3, 1.4, 1.5, 1.6, 1.7,
              1.8, 1.9, 2.0, 2.0, 2.0, 2.0, 2.0, 2.0, 2.2, 2.2,
              2.2, 2.2, 2.2, 2.2, 2.2, 2.3, 2.3, 2.3, 2.2, 2.2,
              2.2, 2.2, 2.2, 2.3, 2.2, 2.2, 2.2, 2.2, 2.2, 2.3,
              2.2, 2.2, 2.2, 2.2, 2.2, 2.2, 2.2, 2.2, 2.2, 2.5,
              2.5, 2.5, 2.5, 2.5, 2.5, 2.6, 2.5, 2.5, 2.5, 2.5,
              2.5, 2.5, 2.5, 2.5, 2.5, 2.5, 2.5, 2.5, 2.5, 2.5,
              2.5, 2.5, 2.5, 2.5, 2.5, 2.5, 2.5, 2.5, 2.5, 2.5,
              2.5, 2.5, 2.6, 2.6, 2.5, 2.5, 2.5]

A_VALUES = [A_CTRL, A_UM100, A_UM50, A_UM25, A_UM5, A_UM100FC, A_UM50FC, A_UM25FC, A_UM5FC, A_CTRLFC]
A_ERRORS = [E_A_CTRL, E_A_UM100, E_A_UM50, E_A_UM25, E_A_UM5, E_A_UM100FC, E_A_UM50FC, E_A_UM25FC, E_A_UM5FC, E_A_CTRLFC]
B_VALUES = [B_CTRL, B_UM100, B_UM50, B_UM25, B_UM5, B_UM100FC, B_UM50FC, B_UM25FC, B_UM5FC, B_CTRLFC]
B_ERRORS = [E_B_CTRL, E_B_UM100, E_B_UM50, E_B_UM25, E_B_UM5, E_B_UM100FC, E_B_UM50FC, E_B_UM25FC, E_B_UM5FC, E_B_CTRLFC]
C_VALUES = [C_CTRL, C_UM100, C_UM50, C_UM25, C_UM5, C_UM100FC, C_UM50FC, C_UM25FC, C_UM5FC, C_CTRLFC]
C_ERRORS = [E_C_CTRL, E_C_UM100, E_C_UM50, E_C_UM25, E_C_UM5, E_C_UM100FC, E_C_UM50FC, E_C_UM25FC, E_C_UM5FC, E_C_CTRLFC]
D_VALUES = [D_NAVY, D_BLUE, D_RED, D_PURPLE]
D_ERRORS = [E_D_NAVY, E_D_BLUE, E_D_RED, E_D_PURPLE]

TICK_FONT = "Lato"
LEGEND_FONT = "Liberation Sans"
Y_TITLE = "Phase Object Confluence (Percent)"
X_TITLE = "Time (Hours)"
NAN = float("nan")


def make_panel(width, height, borders, xr, yr, xint, yint):
    left, right, top, bottom = borders
    p = figure(width=width, height=height, output_backend="svg", toolbar_location=None,
               title=None, x_range=Range1d(*xr), y_range=Range1d(*yr),
               min_border_left=left, min_border_right=right,
               min_border_top=top, min_border_bottom=bottom)
    p.background_fill_color = "white"
    p.border_fill_color = "white"
    p.outline_line_color = "#b8b8b8"
    p.outline_line_width = 1.5
    tx = SingleIntervalTicker(interval=xint, num_minor_ticks=5)
    ty = SingleIntervalTicker(interval=yint, num_minor_ticks=5)
    p.xaxis.ticker = tx
    p.xgrid.ticker = tx
    p.yaxis.ticker = ty
    p.ygrid.ticker = ty
    for ax in (p.xaxis[0], p.yaxis[0]):
        ax.axis_line_color = None
        ax.major_tick_line_color = None
        ax.minor_tick_line_color = "#707070"
        ax.minor_tick_line_width = 1.5
        ax.minor_tick_in = 2
        ax.minor_tick_out = 0
        ax.major_label_text_font = TICK_FONT
        ax.major_label_text_font_size = "16px"
        ax.major_label_text_color = "#1a1a1a"
        ax.axis_label_text_font = TICK_FONT
        ax.axis_label_text_font_style = "bold"
        ax.axis_label_text_font_size = "18px"
        ax.axis_label_text_color = "#111111"
    p.xaxis.major_label_standoff = 5
    p.xaxis.axis_label_standoff = 6
    p.yaxis.major_label_standoff = 3
    p.yaxis.axis_label_standoff = 3
    p.xaxis.axis_label = X_TITLE
    p.yaxis.axis_label = Y_TITLE
    p.xgrid.grid_line_color = "#e4e4e4"
    p.ygrid.grid_line_color = "#e4e4e4"
    p.ygrid.band_fill_color = "#f5f5f5"
    p.ygrid.band_fill_alpha = 1.0
    return p


def draw_series(p, t, vals, errs, color, marker, size):
    lo = [v - e for v, e in zip(vals, errs)]
    hi = [v + e for v, e in zip(vals, errs)]
    src = ColumnDataSource(dict(x=t, y=vals, lo=lo, hi=hi))
    p.line("x", "y", source=src, line_color=color, line_width=1)
    p.scatter("x", "y", source=src, marker=marker, size=size,
              fill_color=color, line_color=color)
    w = Whisker(source=src, base="x", upper="hi", lower="lo", level="glyph",
                line_color="black", line_width=1.2,
                upper_head=TeeHead(size=6, line_color="black", line_width=1.2),
                lower_head=TeeHead(size=6, line_color="black", line_width=1.2))
    p.add_layout(w)


def add_legend(p, labels, colors, markers, location, gh, standoff):
    items = []
    for lab, col, mk in zip(labels, colors, markers):
        # legend-only renderer: a single NaN point is never drawn in the plot area
        r = p.scatter(x=[NAN], y=[NAN], marker=mk, size=10, fill_color=col, line_color=col)
        items.append(LegendItem(label=lab, renderers=[r]))
    leg = Legend(items=items, location=location, glyph_width=gh, glyph_height=gh,
                 label_height=gh, spacing=0, label_standoff=standoff,
                 label_text_font=LEGEND_FONT, label_text_font_size="11.5px",
                 label_text_color="#3a3a3a", background_fill_alpha=0,
                 border_line_color=None, margin=0, padding=2)
    p.add_layout(leg)


def add_text(p, x, y, text, size):
    p.add_layout(Label(x=x, y=y, text=text,
                       text_font=TICK_FONT, text_font_style="bold",
                       text_font_size=size, text_color="black",
                       text_align="center", text_baseline="middle"))


def add_panel_letter(p, letter, offset, standoff):
    p.add_layout(Title(text=letter, align="left", offset=offset, standoff=standoff,
                       text_font=TICK_FONT, text_font_style="bold",
                       text_font_size="28px", text_color="black"), "above")


def letter_div(letter, left, top):
    return Div(text=letter, width=30, height=30,
               styles={"position": "absolute", "left": f"{left}px", "top": f"{top}px",
                       "font-family": "Lato", "font-weight": "bold", "font-size": "28px",
                       "line-height": "28px", "color": "black", "margin": "0"})


# ---------------- build panels ----------------
pA = make_panel(640, 500, (72, 13, 50, 54), (-4.25, 98.3), (4.6, 104.15), 10, 10)
for vals, errs, c, m, s in zip(A_VALUES, A_ERRORS, LINE_COLORS_ABC, MARKERS_ABC, SIZES_ABC):
    draw_series(pA, T, vals, errs, c, m, s)
add_legend(pA, LABELS_ABC, LEGEND_COLORS_ABC, LEGEND_MARKERS_ABC, (18, 181), 19, 1)
add_text(pA, 44.5, 94.85, "A375", "34px")
add_panel_letter(pA, "A", -63, 14)

pB = make_panel(618, 500, (68, 1, 50, 54), (-3.85, 96.9), (4.4, 103.9), 10, 10)
for vals, errs, c, m, s in zip(B_VALUES, B_ERRORS, LINE_COLORS_ABC, MARKERS_ABC, SIZES_ABC):
    draw_series(pB, T, vals, errs, c, m, s)
add_legend(pB, LABELS_ABC, LEGEND_COLORS_ABC, LEGEND_MARKERS_ABC, (10, 186), 19, 1)
add_text(pB, 39.1, 93.85, "B16-F0", "34px")
add_panel_letter(pB, "B", -62, 14)

pC = make_panel(625, 463, (72, 1, 13, 55), (-4.6, 98.1), (2.9, 103.4), 10, 10)
for vals, errs, c, m, s in zip(C_VALUES, C_ERRORS, LINE_COLORS_ABC, MARKERS_ABC, SIZES_ABC):
    draw_series(pC, T, vals, errs, c, m, s)
add_legend(pC, LABELS_ABC, LEGEND_COLORS_ABC, LEGEND_MARKERS_ABC, (15, 184), 19, 1)
add_text(pC, 45.8, 93.5, "PC3", "34px")

pD = make_panel(633, 463, (62, 1, 13, 55), (-12.0, 273.0), (2.9, 43.6), 50, 5)
for vals, errs, c, m, s in zip(D_VALUES, D_ERRORS, LINE_COLORS_D, MARKERS_D, SIZES_D):
    draw_series(pD, T_D, vals, errs, c, m, s)
add_legend(pD, LABELS_D, LEGEND_COLORS_D, ["circle"] * 4, (4, 295), 20, 0)
add_text(pD, 127.5, 40.8, "UM41", "34px")

layout = column(row(pA, pB), row(pC, pD),
                letter_div("C", 9, 464), letter_div("D", 651, 468))
open("out.html", "w").write(file_html(layout, INLINE))
